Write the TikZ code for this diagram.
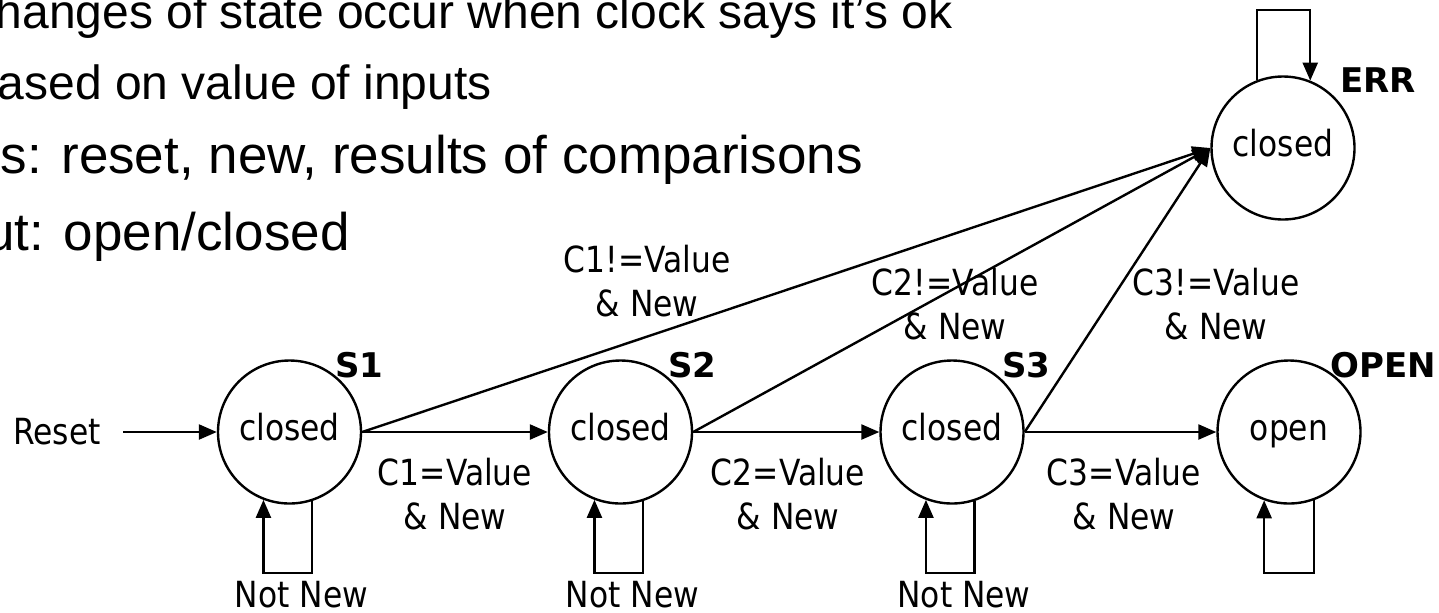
\documentclass[tikz,border=0pt]{standalone}
\usepackage{fontspec}
\setmainfont{Liberation Sans}
\newfontfamily\lblfont[FakeStretch=0.87]{DejaVu Sans}
\newfontfamily\tagfont{DejaVu Sans}
\usetikzlibrary{arrows.meta, positioning}

\begin{document}
\begin{tikzpicture}[x=0.5pt, y=-0.5pt,
    fsm/.style={draw, circle, line width=1.2pt, minimum size=71.5pt, inner sep=0pt,
                text height=13.5pt, text depth=5.5pt, font=\lblfont\fontsize{18pt}{22pt}\selectfont},
    lbl/.style={font=\lblfont\fontsize{18pt}{22pt}\selectfont, align=center, inner sep=0pt},
    tag/.style={font=\tagfont\bfseries\fontsize{17pt}{20pt}\selectfont, inner sep=0pt, anchor=base west},
    bullet/.style={font=\fontsize{24pt}{29pt}\selectfont, anchor=base east, inner sep=0pt},
    trans/.style={line width=1.2pt, -{Triangle[length=9pt, width=7.5pt]}}]

      \useasboundingbox (0,0) rectangle (1439,612);
      \clip (0,0) rectangle (1439,612);

      % slide text, cut at the left edge
      \node[bullet] (l1) at (953,28) {hanges of state occur when clock says it’s ok};
      \node[bullet] (l2) at (492,99) {ased on value of inputs};
      \node[bullet, font=\fontsize{26.5pt}{32pt}\selectfont] (l3) at (863,173) {ts: reset, new, results of comparisons};
      \node[bullet, font=\fontsize{26.5pt}{32pt}\selectfont] (l4) at (350,250) {ut: open/closed};

      % states
      \node[fsm] (s1) at (289.5,432) {closed};
      \node[fsm] (s2) at (620.5,432) {closed};
      \node[fsm] (s3) at (952,432) {closed};
      \node[fsm] (sopen) at (1289,432) {open};
      \node[fsm] (serr) at (1283,148) {closed};

      \node[tag] (t1) at (335,377) {S1};
      \node[tag] (t2) at (668,377) {S2};
      \node[tag] (t3) at (1002,377) {S3};
      \node[tag] (topen) at (1330,377) {OPEN};
      \node[tag] (terr) at (1340,92) {ERR};

      % reset input
      \node[lbl, inner xsep=11pt] (reset) at (57,432) {Reset};
      \draw[trans] (reset) -- (s1);

      % forward transitions
      \draw[trans] (s1) -- (s2);
      \draw[trans] (s2) -- (s3);
      \draw[trans] (s3) -- (sopen);
      \node[lbl] (c1) at (455,494) {C1=Value\\\& New};
      \node[lbl] (c2) at (788,494) {C2=Value\\\& New};
      \node[lbl] (c3) at (1124,494) {C3=Value\\\& New};

      % error transitions
      \draw[trans] (s1.east) -- (serr.west);
      \draw[trans] (s2.east) -- (serr.west);
      \draw[trans] (s3.east) -- (serr.west);
      \node[lbl] (e1) at (647,281) {C1!=Value\\\& New};
      \node[lbl] (e2) at (955,304) {C2!=Value\\\& New};
      \node[lbl] (e3) at (1216,304) {C3!=Value\\\& New};

      % self loops
      \draw[trans] (s1.-72) |- ([yshift=-70.5pt]s1.center) -| (s1.-111);
      \draw[trans] (s2.-72) |- ([yshift=-70.5pt]s2.center) -| (s2.-111);
      \draw[trans] (s3.-72) |- ([yshift=-70.5pt]s3.center) -| (s3.-111);
      \draw[trans] (sopen.-70) |- ([yshift=-70.5pt]sopen.center) -| (sopen.-110);
      \draw[trans] (serr.111) |- ([yshift=69pt]serr.center) -| (serr.68);

      \node[lbl, anchor=base] (n1) at (301.5,607) {Not New};
      \node[lbl, anchor=base] (n2) at (632.5,607) {Not New};
      \node[lbl, anchor=base] (n3) at (964,607) {Not New};
    \end{tikzpicture}
\end{document}
